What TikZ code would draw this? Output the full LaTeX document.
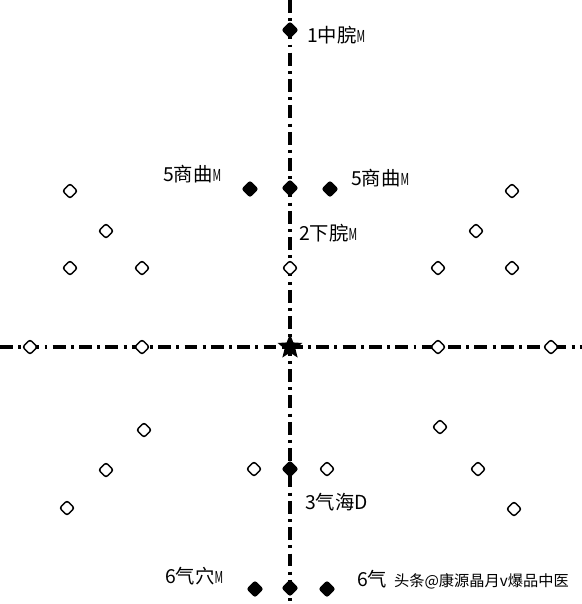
\documentclass[tikz,border=0pt]{standalone}
\usepackage{fontspec}
\usepackage{graphicx}
\setmainfont{Noto Sans CJK SC}
\usetikzlibrary{shapes.geometric}
\newcommand{\mm}{\scalebox{0.55}[0.85]{M}}

\begin{document}
\begin{tikzpicture}[x=0.03cm, y=-0.03cm]
\tikzstyle{open} = [diamond, draw, line width=1.3pt, fill=white, inner sep=0pt, minimum size=0.46cm, rounded corners=2pt]
\tikzstyle{full} = [diamond, fill=black, inner sep=0pt, minimum size=0.52cm, rounded corners=2pt]
\tikzstyle{lbl} = [font=\fontsize{16.5}{16.5}\selectfont, inner sep=0pt, anchor=west]
\tikzstyle{axis} = [line width=2.8pt, dash pattern=on 11pt off 4.5pt on 2.5pt off 4.5pt]
\useasboundingbox[fill=white] (0,0) rectangle (582,604);
\coordinate (top) at (290,0);
\coordinate (bot) at (290,604);
\coordinate (lft) at (0,347);
\coordinate (rgt) at (582,347);
\draw [axis] (top) -- (bot);
\draw [axis] (lft) -- (rgt);
% points on the midline
\node [full] (zw) at (290,30) {};
\node [full] (sq) at (290,188) {};
\node [open] (xw) at (290,268) {};
\node [star, star points=5, star point ratio=2.3, fill=black, inner sep=0pt, minimum size=0.78cm] (c) at (290,347) {};
\node [full] (qh) at (290,469) {};
\node [full] (qx) at (290,588) {};
% side points
\node [full] (sql) at (250,189) {};
\node [full] (sqr) at (330,189) {};
\node [full] (qxl) at (255,589) {};
\node [full] (qxr) at (327,589) {};
\node [open] (qhl) at (254,469) {};
\node [open] (qhr) at (327,469) {};
% open points
\foreach \n/\x/\y in {a1/70/191, a2/106/231, a3/70/268, a4/142/268,
                      b1/512/191, b2/476/231, b3/438/268, b4/512/268,
                      h1/30/347, h2/142/347, h3/438/347, h4/551/347,
                      c1/144/430, c2/106/470, c3/67/508,
                      d1/440/427, d2/478/469, d3/514/509}
  \node [open] (\n) at (\x,\y) {};
% labels
\node [lbl] (t1) at (307,35) {1中脘\mm};
\node [lbl] (t5l) at (163,174) {5商曲\mm};
\node [lbl] (t5r) at (351,178) {5商曲\mm};
\node [lbl] (t2) at (299,233) {2下脘\mm};
\node [lbl] (t3) at (305,502) {3气海D};
\node [lbl] (t6l) at (165,576) {6气穴\mm};
\node [lbl] (t6r) at (357,579) {6气};
\node [lbl, font=\fontsize{13}{13}\selectfont, anchor=east] (wm) at (569,581) {头条@康源晶月v爆品中医};
\end{tikzpicture}
\end{document}
